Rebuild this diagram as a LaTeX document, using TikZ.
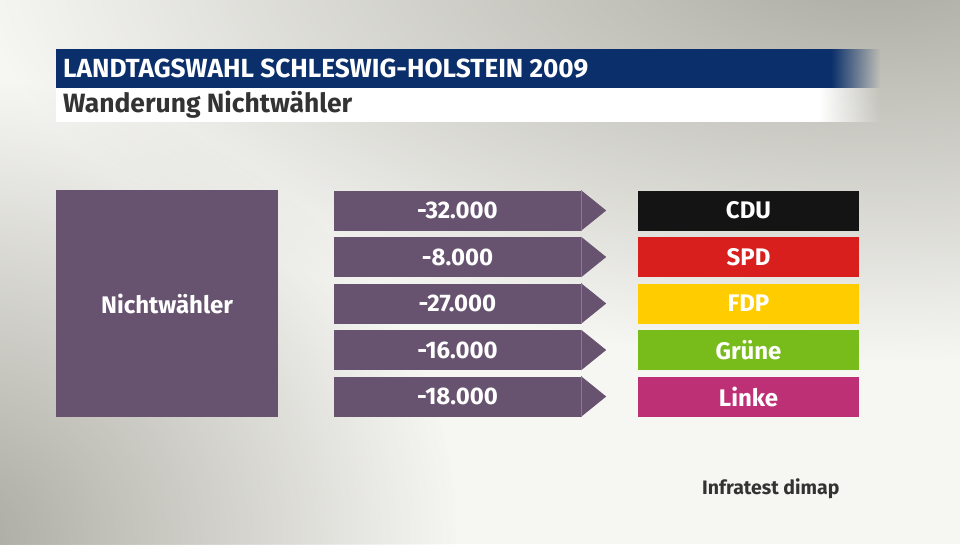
\documentclass[tikz,border=0pt]{standalone}
\usepackage{fontspec}
\setmainfont{Fira Sans}
\usetikzlibrary{calc,fadings}
\definecolor{navy}{HTML}{0A2F6A}
\definecolor{mig}{HTML}{67536F}
\definecolor{migline}{HTML}{8A7A90}
\definecolor{cdu}{HTML}{141414}
\definecolor{spd}{HTML}{D81F1D}
\definecolor{fdp}{HTML}{FFCC00}
\definecolor{gruene}{HTML}{78BC1B}
\definecolor{linke}{HTML}{BE3075}
\definecolor{bgdark}{HTML}{ABAAA1}
\definecolor{bglight}{HTML}{F6F6F3}
\definecolor{txtdark}{HTML}{333333}
\tikzfading[name=softblob, inner color=transparent!0, outer color=transparent!100]
\begin{document}
\begin{tikzpicture}[x=1pt,y=-1pt,
  lbl/.style={text=white,font=\bfseries\fontsize{24}{28}\selectfont,inner sep=0pt},
  valbox/.style={lbl,fill=mig,minimum width=247pt,minimum height=40pt},
  partybox/.style={lbl,minimum width=221pt,minimum height=40pt},
  srcbox/.style={lbl,fill=mig,minimum width=222pt,minimum height=227pt},
  tip/.style={fill=mig}]
\useasboundingbox (0,0) rectangle (960,544);
% background
\begin{scope}
\clip (0,0) rectangle (960,544);
\fill[bglight] (0,0) rectangle (960,544);
\fill[bgdark,path fading=softblob] (880,-40) ellipse (900 and 400);
\fill[bgdark,path fading=softblob] (-40,540) ellipse (500 and 460);
\end{scope}
% header
\fill[navy] (56,49) rectangle (832,88);
\fill[navy,path fading=east] (831,49) rectangle (880,88);
\fill[white] (56,88) rectangle (820,122);
\fill[white,path fading=east] (819,88) rectangle (880,122);
\node[anchor=west,text=white,inner sep=0pt] (title) at (63,68.5)
  {\resizebox{525pt}{!}{\bfseries\fontsize{24}{28}\selectfont LANDTAGSWAHL SCHLESWIG-HOLSTEIN 2009}};
\node[anchor=west,text=txtdark,inner sep=0pt] (subtitle) at (63,105)
  {\resizebox{289pt}{!}{\bfseries\fontsize{24}{28}\selectfont Wanderung Nichtwähler}};
% source
\node[srcbox] (src) at (167,303.5) {Nichtwähler};
% values
\foreach \i/\v/\y in {1/-32.000/210.5, 2/-8.000/257, 3/-27.000/303.5, 4/-16.000/350, 5/-18.000/396.5} {
  \node[valbox] (v\i) at (457.5,\y) {\v};
  \fill[tip] (v\i.north east) -- ($(v\i.east)+(25,0)$) -- (v\i.south east) -- cycle;
  \draw[migline,line width=0.6pt] (v\i.north east) -- (v\i.south east);
}
% parties
\node[partybox,fill=cdu] (p1) at (748.5,210.5) {CDU};
\node[partybox,fill=spd] (p2) at (748.5,257) {SPD};
\node[partybox,fill=fdp] (p3) at (748.5,303.5) {FDP};
\node[partybox,fill=gruene] (p4) at (748.5,350) {Grüne};
\node[partybox,fill=linke] (p5) at (748.5,396.5) {Linke};
% source credit
\node[anchor=base west,text=txtdark,inner sep=0pt,font=\bfseries\fontsize{19.5}{23}\selectfont] (credit) at (702,494) {Infratest dimap};
\end{tikzpicture}
\end{document}
